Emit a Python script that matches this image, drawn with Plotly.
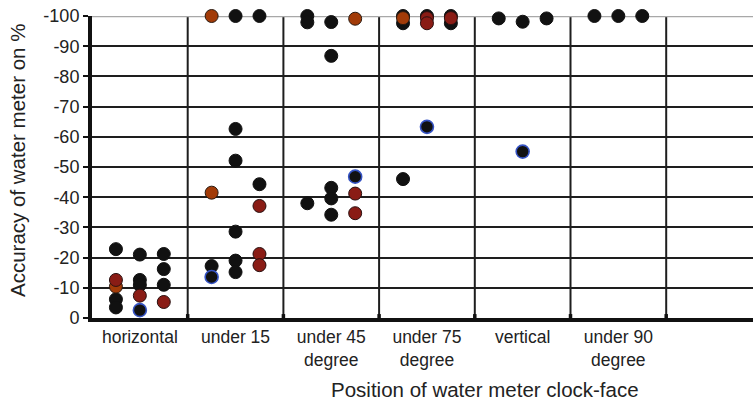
import plotly.graph_objects as go

categories = ["horizontal", "under 15", "under 45<br>degree", "under 75<br>degree",
              "vertical", "under 90<br>degree"]
y_tick_values = [0, -10, -20, -30, -40, -50, -60, -70, -80, -90, -100]
y_tick_labels = ["0", "-10", "-20", "-30", "-40", "-50", "-60", "-70", "-80", "-90", "-100"]

# each point: category index, measurement slot (1..3) inside the category, accuracy value (%)
black_cat = [0, 0, 0, 0, 0, 0, 0, 0, 0,
             1, 1, 1, 1, 1, 1, 1, 1, 1,
             2, 2, 2, 2, 2, 2, 2, 2,
             3, 3, 3, 3, 3, 3,
             4, 4, 4,
             5, 5, 5]
black_slot = [1, 1, 1, 2, 2, 2, 3, 3, 3,
              1, 2, 2, 2, 2, 2, 2, 3, 3,
              1, 1, 1, 2, 2, 2, 2, 2,
              1, 1, 1, 2, 3, 3,
              1, 2, 3,
              1, 2, 3]
black_val = [-22.8, -6.2, -3.5, -21.0, -12.6, -10.9, -21.2, -16.2, -11.0,
             -17.2, -100, -62.6, -52.1, -28.6, -19.0, -15.2, -100, -44.3,
             -100, -97.9, -38.0, -98.0, -86.8, -43.1, -39.6, -34.2,
             -100, -97.6, -46.0, -100, -100, -97.6,
             -99.2, -98.1, -99.2,
             -100, -100, -100]

orange_cat = [0, 1, 1, 2, 3]
orange_slot = [1, 1, 1, 3, 1]
orange_val = [-10.4, -100, -41.5, -99.1, -99.3]

red_cat = [0, 0, 0, 1, 1, 1, 2, 2, 3, 3, 3]
red_slot = [1, 2, 3, 3, 3, 3, 3, 3, 2, 2, 3]
red_val = [-12.6, -7.4, -5.3, -37.1, -21.2, -17.5, -41.2, -34.7, -99.3, -97.6, -99.3]

blue_cat = [0, 1, 2, 3, 4]
blue_slot = [2, 1, 3, 2, 2]
blue_val = [-2.6, -13.6, -46.8, -63.3, -55.1]


def xpos(cats, slots):
    return [c + s / 4 for c, s in zip(cats, slots)]


FONT = "Liberation Sans, Arial, sans-serif"
fig = go.Figure()

series = [
    (black_cat, black_slot, black_val, "#111111", "#111111", 1),
    (orange_cat, orange_slot, orange_val, "#a23b08", "#2a1a10", 1),
    (red_cat, red_slot, red_val, "#8a1c15", "#2a1010", 1),
    (blue_cat, blue_slot, blue_val, "#111111", "#3553c4", 1.6),
]
for cats, slots, vals, fill, edge, lw in series:
    fig.add_trace(go.Scatter(
        x=xpos(cats, slots), y=vals, mode="markers", cliponaxis=False,
        marker=dict(size=13, color=fill, line=dict(color=edge, width=lw)),
        showlegend=False, hoverinfo="skip"))

n_cat = len(categories)
fig.update_xaxes(
    range=[0, 6.907],
    tickvals=[i + 0.5 for i in range(n_cat)],
    ticktext=categories,
    ticks="", showgrid=False, zeroline=False,
    showline=True, linecolor="#111111", linewidth=4,
    tickfont=dict(family=FONT, size=17.5, color="#222222"),
)
fig.update_yaxes(
    range=[0, -100],
    tickvals=y_tick_values, ticktext=y_tick_labels,
    ticks="outside", ticklen=5, tickwidth=2, tickcolor="#111111",
    showgrid=True, gridcolor="#1e1e1e", gridwidth=2, zeroline=False,
    showline=True, linecolor="#111111", linewidth=4,
    tickfont=dict(family=FONT, size=18, color="#222222"),
)

# category separators
for b in range(1, n_cat + 1):
    fig.add_shape(type="line", xref="x", yref="paper", x0=b, x1=b, y0=0, y1=1,
                  line=dict(color="#1e1e1e", width=2), layer="between")
    fig.add_shape(type="line", xref="x", yref="paper", x0=b, x1=b, y0=0, y1=0.013,
                  line=dict(color="#111111", width=3.5), layer="between")

fig.add_shape(type="line", xref="paper", yref="y", x0=0, x1=1, y0=-100, y1=-100,
              line=dict(color="#a8a8a8", width=2.5), layer="between")

fig.add_annotation(text="Accuracy of water meter on %", xref="paper", yref="paper",
                   x=(17 - 92) / 661, y=(318 - 161) / 302, textangle=-90,
                   xanchor="center", yanchor="middle", showarrow=False,
                   font=dict(family=FONT, size=20.5, color="#222222"))
fig.add_annotation(text="Position of water meter clock-face", xref="paper", yref="paper",
                   x=(485 - 92) / 661, y=(318 - 390) / 302,
                   xanchor="center", yanchor="middle", showarrow=False,
                   font=dict(family=FONT, size=20.5, color="#222222"))

fig.update_layout(
    width=753, height=401,
    margin=dict(l=92, r=0, t=16, b=83),
    paper_bgcolor="white", plot_bgcolor="white",
)

fig.write_html("out.html")
